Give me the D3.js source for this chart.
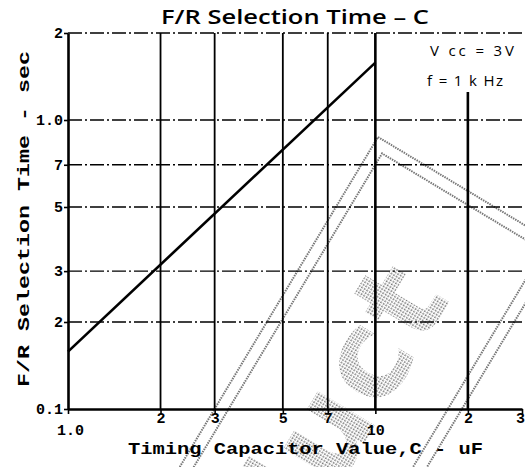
<!DOCTYPE html>
<html>
<head>
<meta charset="utf-8">
<script src="https://cdn.jsdelivr.net/npm/d3@7"></script>
<style>
  body { margin: 0; background: #fff; }
  svg { display: block; }
</style>
</head>
<body>
<div id="app"></div>
<script>
// chart values
const capValues = [1, 10];          // uF
const timeValues = [0.158, 1.58];   // sec

const xTicks = [1, 2, 3, 5, 7, 10, 20, 30];
const xTickLabels = ["1.0", "2", "3", "5", "7", "10", "2", "3"];
const yTicks = [0.1, 0.2, 0.3, 0.5, 0.7, 1, 2];
const yTickLabels = ["0.1", "2", "3", "5", "7", "1.0", "2"];
const xGrid = [2, 3, 5, 7, 10, 20];
const yGrid = [0.2, 0.3, 0.5, 0.7, 1, 2];

const width = 525;
const height = 467;

const x = d3.scaleLog().domain([1, 30]).range([68, 522]);
const y = d3.scaleLog().domain([0.1, 2]).range([409, 33]);

const svg = d3.select("#app").append("svg").attr("width", width).attr("height", height);

const mono = "'Liberation Mono', 'DejaVu Sans Mono', monospace";
const sans = "'Open Sans', 'DejaVu Sans', sans-serif";

// STIPPLE PATTERN for the watermark
const defs = svg.append("defs");
const pat = defs.append("pattern")
  .attr("id", "stipple")
  .attr("patternUnits", "userSpaceOnUse")
  .attr("width", 3)
  .attr("height", 3);
pat.append("rect").attr("width", 3).attr("height", 3).attr("fill", "#fff");
pat.append("rect").attr("width", 1.6).attr("height", 1.6).attr("fill", "#777");

// WATERMARK (tilted stamp behind the chart)
const stamp = svg.append("g").attr("transform", "translate(378,137) rotate(-59)");
[0, 12].forEach(inset => {
  stamp.append("rect")
    .attr("x", -620 + inset)
    .attr("y", inset)
    .attr("width", 620 - 2 * inset)
    .attr("height", 212 - 2 * inset)
    .attr("fill", "none")
    .attr("stroke", "#777")
    .attr("stroke-width", 2)
    .attr("stroke-dasharray", "1.5 1");
});
stamp.append("text")
  .attr("x", -96)
  .attr("y", 146)
  .attr("text-anchor", "end")
  .attr("font-family", "'DejaVu Sans', sans-serif")
  .attr("font-weight", "bold")
  .attr("font-size", 122)
  .attr("letter-spacing", 4)
  .attr("fill", "url(#stipple)")
  .text("Product");

// horizontal grid (dash-dot)
svg.append("g")
  .selectAll("line")
  .data(yGrid)
  .join("line")
  .attr("x1", x(1))
  .attr("x2", x(30))
  .attr("y1", d => y(d))
  .attr("y2", d => y(d))
  .attr("stroke", "#000")
  .attr("stroke-width", 1.4)
  .attr("stroke-dasharray", "14 3 2 3");

// vertical grid
svg.append("g")
  .selectAll("line")
  .data(xGrid)
  .join("line")
  .attr("x1", d => x(d))
  .attr("x2", d => x(d))
  .attr("y1", d => (d === 20 ? 92 : y(2)))
  .attr("y2", y(0.1))
  .attr("stroke", "#000")
  .attr("stroke-width", d => (d >= 10 ? 2.6 : 1.8));

// axes
const xAxis = d3.axisBottom(x)
  .tickValues(xTicks)
  .tickFormat((d, i) => xTickLabels[i])
  .tickSize(5)
  .tickSizeOuter(0);

const gx = svg.append("g").attr("transform", `translate(0,${y(0.1)})`).call(xAxis);
gx.select(".domain").attr("stroke-width", 2.6);
gx.selectAll(".tick line").attr("stroke-width", 1.6);
gx.selectAll(".tick text")
  .attr("font-family", mono)
  .attr("font-weight", "bold")
  .attr("font-size", 15)
  .attr("fill", "#000")
  .attr("y", d => (d === 1 || d === 10 ? 15 : 3))
  .attr("dx", d => (d === 30 ? -2 : d === 1 ? 2 : 0));

const yAxis = d3.axisLeft(y)
  .tickValues(yTicks)
  .tickFormat((d, i) => yTickLabels[i])
  .tickSize(4)
  .tickSizeOuter(0);

const gy = svg.append("g").attr("transform", `translate(${x(1)},0)`).call(yAxis);
gy.select(".domain").attr("stroke-width", 2.6);
gy.selectAll(".tick line").attr("stroke-width", 1.6);
gy.selectAll(".tick text")
  .attr("font-family", mono)
  .attr("font-weight", "bold")
  .attr("font-size", 15)
  .attr("fill", "#000")
  .attr("x", -5);

// data line
const line = d3.line()
  .x(d => x(d[0]))
  .y(d => y(d[1]));

svg.append("path")
  .datum(capValues.map((c, i) => [c, timeValues[i]]))
  .attr("d", line)
  .attr("fill", "none")
  .attr("stroke", "#000")
  .attr("stroke-width", 2.6);

// title
svg.append("text")
  .attr("x", 295)
  .attr("y", 24)
  .attr("text-anchor", "middle")
  .attr("font-family", sans)
  .attr("font-weight", 600)
  .attr("font-size", 19)
  .attr("textLength", 268)
  .attr("lengthAdjust", "spacingAndGlyphs")
  .text("F/R Selection Time \u2013 C");

// conditions
svg.append("rect").attr("x", 424).attr("y", 36).attr("width", 96).attr("height", 56).attr("fill", "#fff");
svg.append("text")
  .attr("x", 430)
  .attr("y", 56)
  .attr("font-family", sans)
  .attr("font-size", 15)
  .attr("textLength", 84)
  .attr("lengthAdjust", "spacing")
  .text("V cc = 3V");
svg.append("text")
  .attr("x", 427)
  .attr("y", 86)
  .attr("font-family", sans)
  .attr("font-size", 15)
  .attr("textLength", 76)
  .attr("lengthAdjust", "spacing")
  .text("f = 1 k Hz");

// axis titles
svg.append("text")
  .attr("x", 128)
  .attr("y", 454)
  .attr("font-family", mono)
  .attr("font-weight", "bold")
  .attr("font-size", 17)
  .attr("textLength", 355)
  .attr("lengthAdjust", "spacingAndGlyphs")
  .text("Timing Capacitor Value,C - uF");

svg.append("text")
  .attr("transform", "translate(29,219) rotate(-90)")
  .attr("text-anchor", "middle")
  .attr("font-family", mono)
  .attr("font-weight", "bold")
  .attr("font-size", 17)
  .attr("textLength", 336)
  .attr("lengthAdjust", "spacingAndGlyphs")
  .text("F/R Selection Time - sec");
</script>
</body>
</html>
